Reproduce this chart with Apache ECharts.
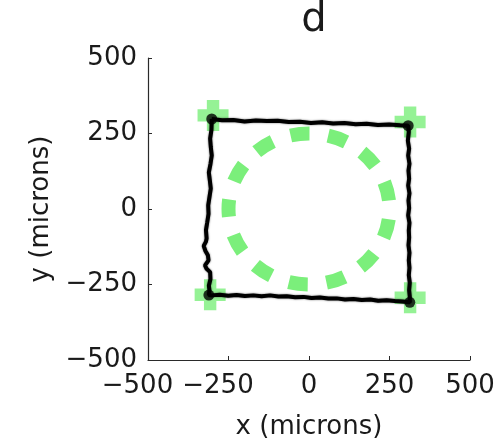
<!DOCTYPE html>
<html>
<head>
<meta charset="utf-8">
<script src="https://cdn.jsdelivr.net/npm/echarts@6/dist/echarts.min.js"></script>
<style>html,body{margin:0;padding:0;background:#fff}#c{width:501px;height:441px}</style>
</head>
<body>
<div id="c"></div>
<script>
// ---- data ----
const titleText = 'd';
const xName = 'x (microns)';
const yName = 'y (microns)';
const xTicks = [-500, -250, 0, 250, 500];
const yTicks = [-500, -250, 0, 250, 500];

// target circle: [centerX, centerY, radius]
const targetCircle = [[0, 0, 250]];

// target corner markers (green plus)
const cornerX = [-298, 314, 314, -307];
const cornerY = [310, 288, -294, -284];

// measured trajectory (black), clockwise from top-left
const trajX = [
  -302, -270, -235, -200, -165, -131, -97, -63, -28, 6, 41, 75, 110, 145, 179, 214, 249, 283, 308,
  310, 307, 311, 308, 312, 309, 311, 308, 312, 309, 311, 308, 312, 310, 311, 309, 312, 310, 312, 310, 313, 311, 313, 313,
  290, 267, 241, 215, 190, 164, 138, 112, 86, 60, 34, 8, -17, -43, -69, -95, -121, -147, -173, -199, -225, -251, -277, -302, -311,
  -309, -311, -306, -307, -318, -323, -312, -314, -322, -327, -320, -318, -320, -316, -312, -313, -309, -305, -308, -311, -306, -302, -305, -307, -303, -302
];
const trajY = [
  298, 294, 295, 290, 293, 291, 292, 288, 289, 285, 287, 283, 285, 281, 282, 278, 280, 277, 276,
  255, 226, 200, 177, 150, 127, 100, 78, 52, 28, 3, -21, -46, -71, -95, -120, -145, -170, -195, -219, -244, -269, -290, -309,
  -306, -305, -302, -304, -300, -301, -298, -300, -296, -296, -293, -295, -291, -292, -289, -290, -286, -289, -286, -288, -285, -287, -284, -286, -285,
  -270, -254, -232, -209, -198, -187, -170, -153, -138, -122, -108, -97, -70, -44, -16, 12, 40, 68, 95, 121, 149, 177, 205, 233, 262, 298
];

// trajectory corner blobs
const blobX = [-302, 308, 313, -311];
const blobY = [298, 276, -309, -285];

// ---- styles ----
const FONT = 'DejaVu Sans';
const TXT = '#1a1a1a';
const AX = '#2a2a2a';
const GREEN = '#7bef7b';
const MINUS = '\u2212';

const zip = (a, b) => a.map((v, i) => [v, b[i]]);

const chart = echarts.init(document.getElementById('c'), null, {renderer: 'canvas'});
chart.setOption({
  animation: false,
  backgroundColor: '#fff',
  title: {
    text: titleText, left: 309, top: -4, textAlign: 'center',
    textStyle: {fontFamily: FONT, fontSize: 40, fontWeight: 'normal', color: TXT}
  },
  grid: {left: 148, right: 31, top: 58, bottom: 81, containLabel: false, outerBoundsMode: 'none'},
  xAxis: {
    type: 'value', min: xTicks[0], max: xTicks[xTicks.length - 1], interval: 250,
    name: xName, nameLocation: 'middle', nameGap: 54,
    nameTextStyle: {fontFamily: FONT, fontSize: 26, color: TXT},
    axisLine: {show: true, onZero: false, lineStyle: {color: AX, width: 1.2}},
    axisTick: {show: true, inside: true, length: 4, lineStyle: {color: AX}},
    splitLine: {show: false},
    axisLabel: {
      margin: 13, fontFamily: FONT, fontSize: 26, color: TXT,
      formatter: v => v < 0 ? '{n|' + MINUS + Math.abs(v) + '}' : '{p|' + v + '}',
      rich: {
        n: {fontFamily: FONT, fontSize: 26, color: TXT, padding: [0, 21, 0, 0]},
        p: {fontFamily: FONT, fontSize: 26, color: TXT}
      }
    }
  },
  yAxis: {
    type: 'value', min: yTicks[0], max: yTicks[yTicks.length - 1], interval: 250,
    name: yName, nameLocation: 'middle', nameGap: 94, nameRotate: 90,
    nameTextStyle: {fontFamily: FONT, fontSize: 26, color: TXT},
    axisLine: {show: true, onZero: false, lineStyle: {color: AX, width: 1.2}},
    axisTick: {show: true, inside: true, length: 4, lineStyle: {color: AX}},
    splitLine: {show: false},
    axisLabel: {
      margin: 11, fontFamily: FONT, fontSize: 26, color: TXT,
      formatter: v => v < 0 ? MINUS + Math.abs(v) : String(v)
    }
  },
  series: [
    {
      type: 'custom', name: 'target', clip: false, z: 2,
      data: targetCircle,
      renderItem: (params, api) => {
        const c = api.coord([api.value(0), api.value(1)]);
        const s = api.size([api.value(2), api.value(2)]);
        return {
          type: 'ellipse',
          shape: {cx: c[0], cy: c[1], rx: s[0], ry: s[1]},
          style: {fill: 'none', stroke: GREEN, lineWidth: 14, lineDash: [19, 18.8], lineDashOffset: 9.5, lineCap: 'butt'}
        };
      }
    },
    {
      type: 'scatter', name: 'corners', z: 3,
      symbol: 'path://M9,0H21V9H30V21H21V30H9V21H0V9H9Z', symbolSize: 31,
      itemStyle: {color: GREEN},
      data: zip(cornerX, cornerY)
    },
    {
      type: 'line', name: 'trajectory', z: 4,
      showSymbol: false, smooth: false,
      lineStyle: {color: '#000', width: 4, shadowBlur: 2, shadowColor: 'rgba(0,0,0,0.6)'},
      data: zip(trajX, trajY).concat([[trajX[0], trajY[0]]])
    },
    {
      type: 'scatter', name: 'blobs', z: 5,
      symbol: 'circle', symbolSize: 11,
      itemStyle: {color: '#000'},
      data: zip(blobX, blobY)
    }
  ]
});
</script>
</body>
</html>
